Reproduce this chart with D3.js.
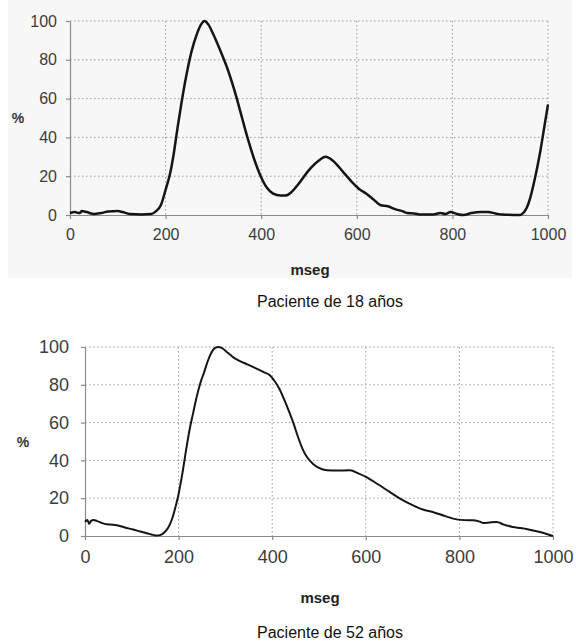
<!DOCTYPE html>
<html>
<head>
<meta charset="utf-8">
<script src="https://cdn.jsdelivr.net/npm/d3@7"></script>
<style>
  body { margin: 0; background: white; }
  svg { display: block; font-family: "Liberation Sans", Arial, sans-serif; }
  .grid line { stroke: #9a9a9a; stroke-width: 1px; stroke-dasharray: 1.5,2.5; }
  .axis path, .axis line { stroke: #8a8a8a; stroke-width: 1.2px; fill: none; }
  .axis text { fill: #3c3c3c; }
  .curve { fill: none; stroke: #151515; stroke-linejoin: round; }
</style>
</head>
<body>
<svg id="svg" width="576" height="641"></svg>
<script>
// paciente de 18 años
var ms18 = [0, 10, 20, 25, 35, 50, 65, 80, 100, 110, 125, 150, 170, 180, 190, 200, 210, 216, 225, 234,
  245, 255, 265, 275, 281, 290, 300, 314, 330, 349, 360, 370, 385, 398, 412, 425, 440, 450, 462, 478,
  490, 503, 520, 535, 550, 572, 590, 607, 620, 635, 650, 665, 680, 695, 705, 720, 735, 760, 775, 785,
  796, 810, 823, 840, 858, 875, 890, 905, 942, 950, 956, 963, 970, 977, 984, 992, 1000];
var pct18 = [1, 1.5, 1, 2, 1.5, 0.5, 1, 1.8, 2, 1.5, 0.5, 0.3, 0.5, 2, 5, 13, 22, 30, 45, 59,
  74, 85, 93, 98.5, 100, 98, 93, 85, 75, 60, 50, 41, 29, 20.5, 14, 11, 10, 10, 11.5, 16,
  20, 24, 28, 30, 28, 22, 17, 13, 11, 8, 5, 4.5, 3, 2, 1, 0.8, 0.3, 0.3, 1, 0.5,
  1.5, 0.5, 0, 1, 1.5, 1.5, 0.8, 0.2, 0, 1.5, 4, 9, 16, 24, 33, 45, 57];

// paciente de 52 años
var ms52 = [0, 5, 9, 13, 18, 25, 35, 46, 60, 68, 85, 103, 118, 132, 145, 153, 162, 170, 178, 186,
  193, 199, 208, 217, 224, 231, 239, 246, 255, 263, 270, 278, 285, 292, 305, 317, 331, 345, 363, 381,
  395, 405, 415, 425, 435, 445, 455, 465, 475, 488, 500, 517, 540, 566, 585, 601, 625, 651, 675, 701,
  722, 743, 770, 794, 812, 830, 845, 851, 865, 880, 895, 914, 930, 943, 965, 985, 1000];
var pct52 = [7.5, 8.5, 6.5, 8, 8.5, 8, 7, 6.2, 6, 5.7, 4.5, 3.4, 2.4, 1.5, 0.6, 0.2, 0.6, 2, 4.5, 9,
  15, 21, 33, 47, 57, 65, 74, 80.6, 87, 93, 97, 99.5, 100, 99.5, 97, 94.5, 92.5, 91, 89, 86.8,
  85, 82, 78, 72.5, 66.5, 60, 52.5, 46, 41.5, 38, 36, 34.8, 34.6, 34.8, 33, 31.2, 27.5, 23.3, 19.5, 16.2,
  14, 12.7, 10.5, 8.8, 8.4, 8.3, 7.5, 6.9, 7.2, 7.4, 6, 4.8, 4.2, 3.7, 2.5, 1.2, 0];

var xTicks = [0, 200, 400, 600, 800, 1000];
var yTicks = [0, 20, 40, 60, 80, 100];
var xLabel = "mseg", yLabel = "%";
var captions = ["Paciente de 18 años", "Paciente de 52 años"];

var svg = d3.select("#svg");

// scanned page tint behind the first chart
svg.append("rect").attr("x", 8).attr("y", 0).attr("width", 564).attr("height", 278)
  .attr("fill", "#f7f7f7");

function drawChart(cfg, xs, ys, caption) {
  var x = d3.scaleLinear().domain([0, 1000]).range([cfg.left, cfg.right]);
  var y = d3.scaleLinear().domain([0, 100]).range([cfg.bottom, cfg.top]);
  var g = svg.append("g");

  var grid = g.append("g").attr("class", "grid");
  grid.selectAll(".h").data(yTicks.slice(1)).enter().append("line")
    .attr("x1", cfg.left).attr("x2", cfg.right)
    .attr("y1", function(d) { return y(d); }).attr("y2", function(d) { return y(d); });
  grid.selectAll(".v").data(xTicks.slice(1)).enter().append("line")
    .attr("y1", cfg.top).attr("y2", cfg.bottom)
    .attr("x1", function(d) { return x(d); }).attr("x2", function(d) { return x(d); });

  var xAxis = d3.axisBottom(x).tickValues(xTicks).tickFormat(d3.format("d"))
    .tickSize(4).tickSizeOuter(0).tickPadding(10);
  var yAxis = d3.axisLeft(y).tickValues(yTicks).tickFormat(d3.format("d"))
    .tickSize(4).tickSizeOuter(0).tickPadding(cfg.ypad);

  g.append("g").attr("class", "axis").attr("transform", "translate(0," + cfg.bottom + ")")
    .call(xAxis).selectAll("text").style("font-size", cfg.fs + "px");
  g.append("g").attr("class", "axis").attr("transform", "translate(" + cfg.left + ",0)")
    .call(yAxis).selectAll("text").style("font-size", cfg.fs + "px");

  var line = d3.line()
    .curve(d3.curveMonotoneX)
    .x(function(d, i) { return x(xs[i]); })
    .y(function(d) { return y(d); });

  g.append("path").attr("class", "curve").attr("stroke-width", cfg.sw)
    .attr("d", line(ys));

  g.append("text").attr("x", cfg.pctX).attr("y", (cfg.top + cfg.bottom) / 2 + 5)
    .attr("text-anchor", "middle").style("font-size", "14px").style("font-weight", "bold")
    .attr("fill", "#333").text(yLabel);

  g.append("text").attr("x", cfg.msegX).attr("y", cfg.msegY)
    .attr("text-anchor", "middle").style("font-size", "15px").style("font-weight", "bold")
    .attr("fill", "#222").text(xLabel);

  g.append("text").attr("x", 330).attr("y", cfg.capY)
    .attr("text-anchor", "middle").style("font-size", "16px")
    .attr("fill", "#111").text(caption);
}

drawChart({left: 70, right: 548, top: 21, bottom: 215, fs: 16, ypad: 9, sw: 2.5,
  pctX: 18, msegX: 310, msegY: 275, capY: 307}, ms18, pct18, captions[0]);
drawChart({left: 85, right: 553, top: 347, bottom: 536, fs: 18, ypad: 12, sw: 2,
  pctX: 23, msegX: 320, msegY: 603, capY: 638}, ms52, pct52, captions[1]);
</script>
</body>
</html>
